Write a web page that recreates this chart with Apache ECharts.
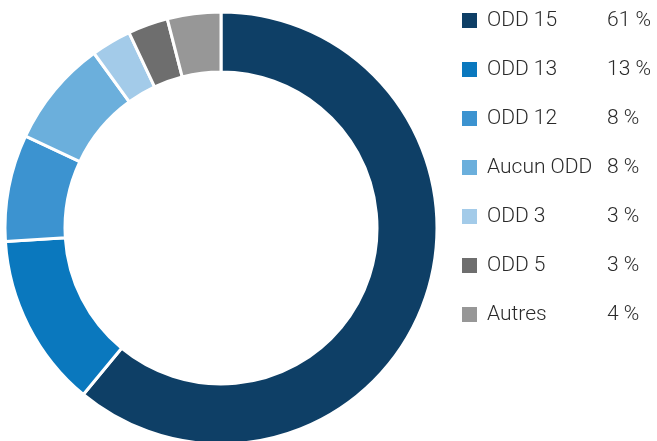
<!DOCTYPE html>
<html>
<head>
<meta charset="utf-8">
<script src="https://cdn.jsdelivr.net/npm/echarts@6/dist/echarts.min.js"></script>
<style>
  html, body { margin: 0; padding: 0; background: #fff; }
  #chart { width: 657px; height: 441px; }
</style>
</head>
<body>
<div id="chart"></div>
<script>
// Share of items by sustainable development goal (percent)
const categories = ['ODD 15', 'ODD 13', 'ODD 12', 'Aucun ODD', 'ODD 3', 'ODD 5', 'Autres'];
const shares = [61, 13, 8, 8, 3, 3, 4];
const colors = ['#0e3f66', '#0a78be', '#3c93d0', '#6bafdc', '#a3cbe9', '#6e6e6e', '#979797'];

const chart = echarts.init(document.getElementById('chart'), null, { renderer: 'canvas' });

const fontFamily = 'Roboto, "Noto Sans", sans-serif';
const txt = { fontSize: 21, lineHeight: 21, fontFamily: fontFamily, fontWeight: 300, color: '#2a2a2a' };

chart.setOption({
  animation: false,
  color: colors,
  legend: {
    orient: 'vertical',
    left: 462,
    top: 10,
    padding: 0,
    itemWidth: 15,
    itemHeight: 15,
    itemGap: 28,
    icon: 'rect',
    itemStyle: { borderWidth: 0 },
    selectedMode: false,
    data: categories,
    formatter: function (name) {
      const i = categories.indexOf(name);
      return '{s| }{n|' + name + '}{v|' + shares[i] + ' %}';
    },
    textStyle: Object.assign({}, txt, {
      rich: {
        s: Object.assign({ width: 5 }, txt),
        n: Object.assign({ width: 120 }, txt),
        v: Object.assign({}, txt)
      }
    })
  },
  series: [{
    type: 'pie',
    center: [221, 228],
    radius: [156, 216],
    startAngle: 90,
    clockwise: true,
    silent: true,
    label: { show: false },
    labelLine: { show: false },
    itemStyle: { borderColor: '#ffffff', borderWidth: 3 },
    data: categories.map((name, i) => ({ name: name, value: shares[i] }))
  }]
});
</script>
</body>
</html>
